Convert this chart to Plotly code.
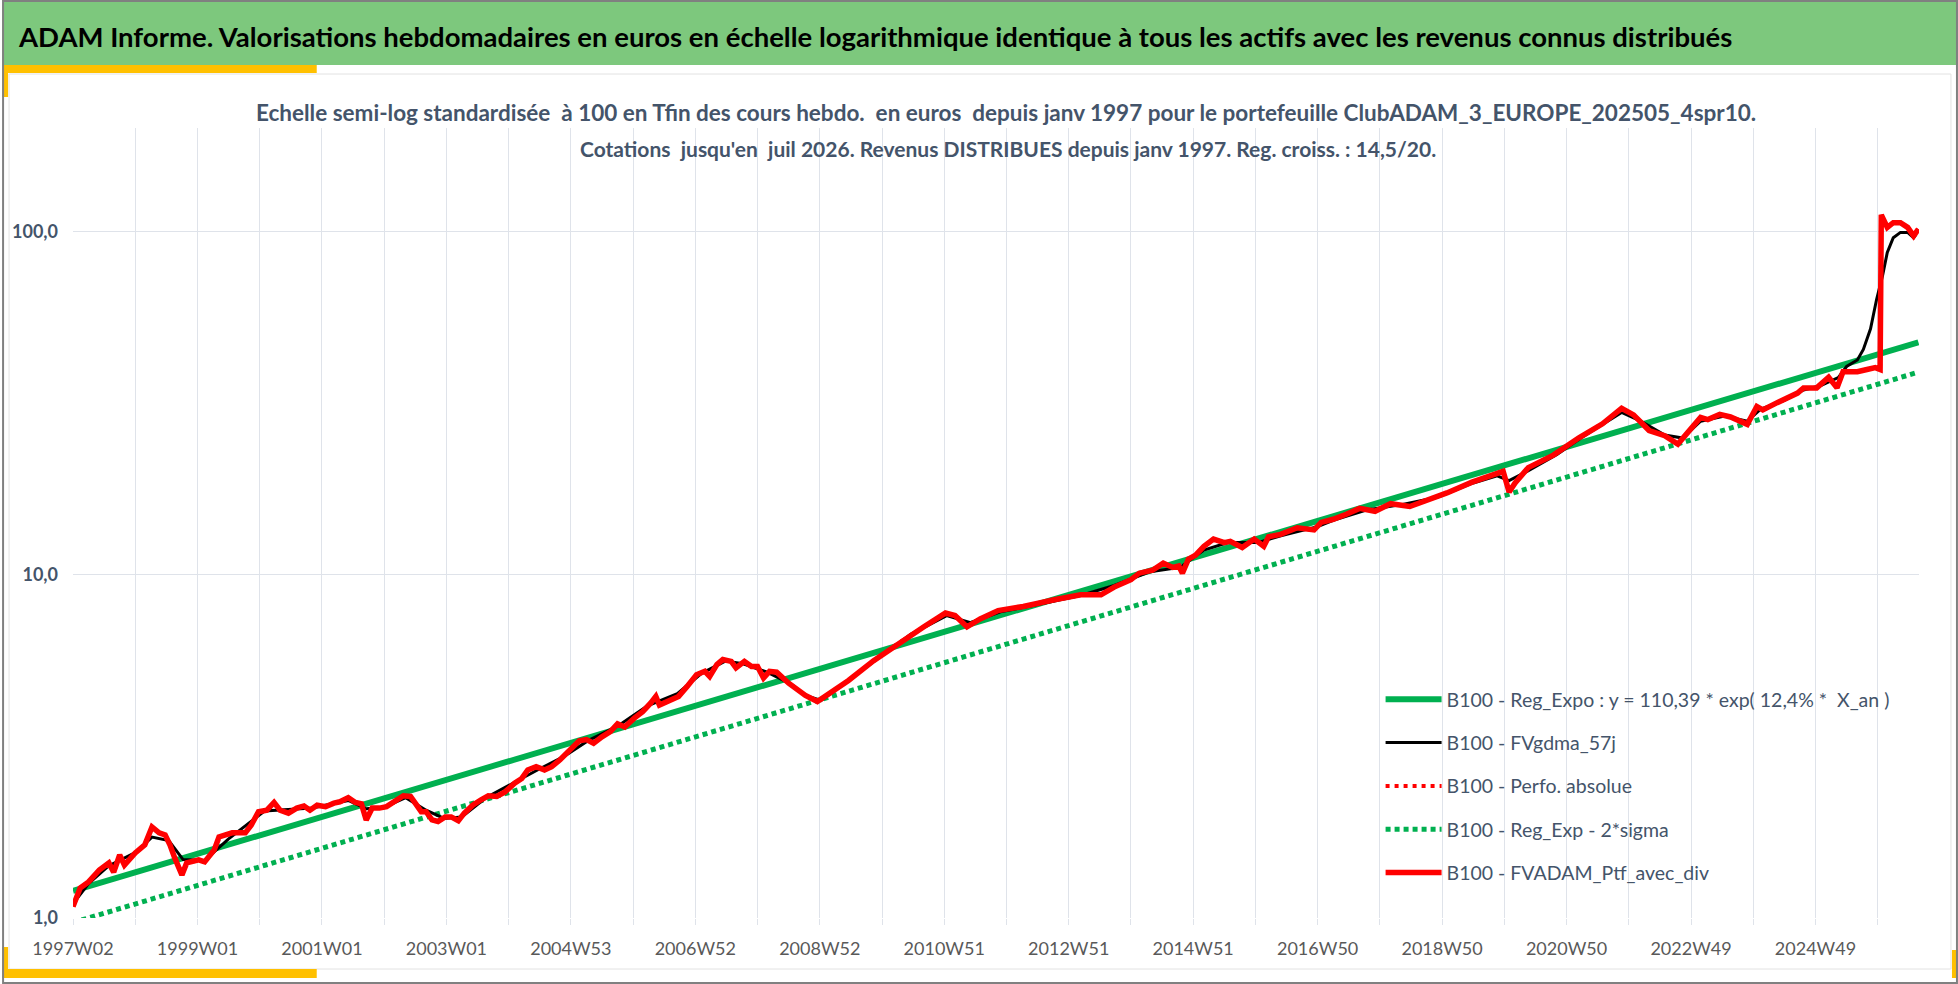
import plotly.graph_objects as go
import math

# ---------------------------------------------------------------- DATA
tick_labels = ["1997W02", "1999W01", "2001W01", "2003W01", "2004W53", "2006W52",
               "2008W52", "2010W51", "2012W51", "2014W51", "2016W50", "2018W50",
               "2020W50", "2022W49", "2024W49"]

# weeks counted from 1997W02
red_weeks = [0, 6, 13, 22, 30, 34, 39, 43, 52, 60, 66, 72, 77, 81, 85, 91, 95, 105, 110, 118, 122, 133, 144,
             149, 155, 162, 168, 173, 180, 187, 193, 198, 204, 211, 218, 223, 230, 236, 241, 245, 250, 256, 262,
             269, 276, 282, 287, 291, 295, 300, 305, 311, 316, 322, 327, 334, 341, 347, 354, 361, 369, 375, 380,
             387, 394, 400, 407, 414, 423, 429, 435, 442, 449, 455, 461, 469, 476, 483, 487, 490, 497, 506, 513,
             521, 528, 532, 538, 543, 550, 554, 561, 567, 572, 577, 582,
             588, 598, 612, 622, 633, 648, 669, 690, 711, 729, 737, 747, 758, 773, 794, 820,
             842, 859, 870, 884, 891, 902, 911, 919, 924, 927, 932, 938, 945, 953, 962, 967, 977, 987, 995, 999,
             1009, 1023, 1037, 1043, 1053,
             1064, 1075, 1088, 1101, 1117, 1132, 1148, 1169, 1190, 1195, 1200, 1205, 1216, 1237, 1258, 1278,
             1294, 1304, 1317, 1330, 1341, 1351,
             1360, 1366, 1376, 1385, 1396, 1399, 1407, 1412, 1424, 1429, 1441, 1446, 1457, 1467, 1474, 1479,
             1491, 1499, 1506, 1510, 1511, 1516, 1521, 1527, 1533, 1538, 1542]
red_values = [1.08, 1.223, 1.274, 1.38, 1.447, 1.36, 1.526, 1.427, 1.547, 1.633, 1.842, 1.77, 1.745, 1.633,
              1.496, 1.335, 1.447, 1.476, 1.457, 1.579, 1.722, 1.77, 1.77,
              1.866, 2.04, 2.06, 2.17, 2.06, 2.02, 2.09, 2.12, 2.06, 2.13, 2.11, 2.16, 2.18, 2.24, 2.17, 2.15,
              1.93, 2.09, 2.09, 2.11, 2.18, 2.27, 2.26, 2.13, 2.04, 2.04, 1.93, 1.91, 1.97, 1.97, 1.92, 2.02,
              2.13, 2.21, 2.27, 2.26, 2.33, 2.47, 2.55, 2.70, 2.76, 2.70, 2.76, 2.89, 3.05, 3.28, 3.31, 3.23,
              3.37, 3.49, 3.68, 3.60, 3.82, 3.99, 4.24, 4.42, 4.17, 4.27, 4.42, 4.72, 5.11, 5.23, 5.05, 5.47,
              5.66, 5.59, 5.35, 5.59, 5.40, 5.40, 5.00, 5.23,
              5.2, 4.83, 4.45, 4.27, 4.52, 4.92, 5.62, 6.32, 7.05, 7.73, 7.6, 7.05, 7.43, 7.86, 8.08, 8.45,
              8.74, 8.74, 9.2, 9.67, 10.1, 10.3, 10.8, 10.5, 10.6, 10.1, 11.1, 11.4, 12.1, 12.7, 12.4, 12.5,
              12.0, 12.7, 12.1, 12.9, 13.1, 13.7, 13.5, 14.2, 14.5,
              15.0, 15.6, 15.3, 16.1, 15.8, 16.5, 17.3, 18.6, 19.7, 20.0, 17.4, 18.5, 20.5, 22.3, 25.0, 27.5,
              30.5, 29.2, 26.3, 25.4, 24.0, 26.3,
              28.7, 28.3, 29.3, 28.8, 27.9, 27.4, 30.9, 30.2, 31.7, 32.4, 33.8, 35.0, 35.0, 37.6, 35.0, 39.0,
              39.0, 39.6, 40.1, 39.6, 111.7, 102.7, 106, 106, 102.7, 97, 101.5]

black_weeks = [0, 13, 30, 52, 66, 80, 92, 110, 130, 160, 200, 230, 245, 260, 278, 295, 310, 325, 345, 370,
               390, 410, 430, 455, 480, 505, 525, 545, 560, 580, 600, 612, 625, 640, 670, 700, 730, 750, 775,
               800, 842, 870, 900, 925, 945, 965, 990, 1010, 1040, 1053, 1080, 1110, 1140, 1170, 1190, 1200,
               1215, 1240, 1260, 1280, 1294, 1310, 1330, 1345, 1360, 1380, 1399, 1410, 1430, 1446, 1460, 1475,
               1482, 1491, 1496, 1502, 1507, 1512, 1516, 1521, 1527, 1533, 1538, 1540]
black_values = [1.10, 1.26, 1.42, 1.55, 1.72, 1.68, 1.48, 1.47, 1.70, 2.05, 2.09, 2.2, 2.08, 2.1, 2.24, 2.06,
                1.95, 1.97, 2.24, 2.5, 2.72, 2.95, 3.28, 3.62, 4.15, 4.5, 5.15, 5.6, 5.5, 5.2, 4.8, 4.45, 4.3,
                4.7, 5.6, 6.7, 7.6, 7.25, 7.8, 8.1, 8.7, 9.3, 10.2, 10.5, 11.8, 12.4, 12.4, 13.0, 13.8, 14.4,
                15.4, 16.0, 16.8, 18.5, 19.4, 18.8, 20.0, 22.4, 25.0, 27.6, 29.7, 28.0, 25.5, 25.0, 28.0, 29.0,
                28.0, 30.3, 32.2, 34.5, 35.5, 37.5, 40.4, 42.2, 45.3, 52.0, 63.2, 74.2, 86.8, 95.8, 99.3, 99.3,
                95.8, 98.0]

reg_weeks = [0, 1542]
reg_values = [1.2, 47.5]
sigma_values = [0.97, 38.9]

# ---------------------------------------------------------------- LAYOUT HELPERS
W, H = 1958, 984
L, R, T, B = 71, 39, 128, 66
PW, PH = W - L - R, H - T - B
FONT = "Lato"
SLATE = "#44546A"
GRID = "#DFE3EA"


def px_x(X):
    return (X - L) / PW


def px_y(Y):
    return (H - B - Y) / PH


def box(x0, y0, x1, y1, fill=None, line=None, width=0):
    return dict(type="rect", xref="paper", yref="paper",
                x0=px_x(x0), x1=px_x(x1), y0=px_y(y1), y1=px_y(y0),
                fillcolor=fill if fill else "rgba(0,0,0,0)",
                line=dict(color=line if line else "rgba(0,0,0,0)", width=width),
                layer="above")


################################## TRACES ##################################
fig = go.Figure()

fig.add_trace(go.Scatter(x=reg_weeks, y=reg_values, mode="lines",
                         name="B100 - Reg_Expo : y = 110,39 * exp( 12,4% *  X_an )",
                         line=dict(color="#00B050", width=6), legendgroup="a", legendrank=1))
fig.add_trace(go.Scatter(x=reg_weeks, y=sigma_values, mode="lines",
                         name="B100 - Reg_Exp - 2*sigma",
                         line=dict(color="#00B050", width=5, dash="5px,4px"), legendgroup="d", legendrank=4))
fig.add_trace(go.Scatter(x=black_weeks, y=black_values, mode="lines",
                         name="B100 - FVgdma_57j",
                         line=dict(color="black", width=3), legendgroup="b", legendrank=2))
fig.add_trace(go.Scatter(x=red_weeks, y=red_values, mode="lines",
                         name="B100 - Perfo. absolue",
                         line=dict(color="#FF0000", width=4, dash="4px,5px"), legendgroup="c", legendrank=3))
fig.add_trace(go.Scatter(x=red_weeks, y=red_values, mode="lines",
                         name="B100 - FVADAM_Ptf_avec_div",
                         line=dict(color="#FF0000", width=5.5), legendgroup="e", legendrank=5))

################################## AXES ##################################
grid_weeks = list(range(0, 1543, 52))
grid_text = [tick_labels[i // 2] if i % 2 == 0 and i // 2 < len(tick_labels) else "" for i in range(len(grid_weeks))]

fig.update_xaxes(range=[0, 1542.5], tickmode="array", tickvals=grid_weeks, ticktext=grid_text,
                 showgrid=True, gridcolor=GRID, gridwidth=1, zeroline=False, showline=False,
                 ticks="outside", ticklen=6, tickcolor=GRID, ticklabelstandoff=8,
                 tickfont=dict(family=FONT, size=18, color="#595959"))
fig.update_yaxes(type="log", range=[0, math.log10(200)], tickmode="array",
                 tickvals=[1, 10, 100], ticktext=["<b>1,0</b>", "<b>10,0</b>", "<b>100,0</b>"],
                 showgrid=True, gridcolor=GRID, gridwidth=1, zeroline=False, showline=False,
                 ticks="", ticklabelstandoff=14,
                 tickfont=dict(family=FONT, size=18, color=SLATE))

################################## FRAME ##################################
shapes = [
    box(0, 0, W, 65, fill="#7DC87D"),
    box(7, 74, W - 7, 969, line="#E2E2E2", width=1),
    box(0, 65, 315, 73, fill="#FFC000"),
    box(0, 65, 6, 97, fill="#FFC000"),
    box(0, 969, 315, 978, fill="#FFC000"),
    box(0, 947, 6, 978, fill="#FFC000"),
    box(W - 6, 950, W, 978, fill="#FFC000"),
    box(1, 1, W - 1, H - 1, line="#808080", width=2),
]

annotations = [
    dict(x=px_x(14), y=px_y(36), xref="paper", yref="paper", xanchor="left", yanchor="middle",
         showarrow=False, text="<b>ADAM Informe. Valorisations hebdomadaires en euros en échelle logarithmique "
                               "identique à tous les actifs avec les revenus connus distribués</b>",
         font=dict(family=FONT, size=27.5, color="black")),
    dict(x=px_x(1005), y=px_y(113), xref="paper", yref="paper", xanchor="center", yanchor="middle",
         showarrow=False, text="<b>Echelle semi-log standardisée  à 100 en Tfin des cours hebdo.  en euros  depuis "
                               "janv 1997 pour le portefeuille ClubADAM_3_EUROPE_202505_4spr10.</b>",
         font=dict(family=FONT, size=22.5, color=SLATE)),
    dict(x=px_x(1007), y=px_y(148), xref="paper", yref="paper", xanchor="center", yanchor="middle",
         showarrow=False, text="<b>Cotations  jusqu'en  juil 2026. Revenus DISTRIBUES depuis janv 1997. "
                               "Reg. croiss. : 14,5/20.</b>",
         font=dict(family=FONT, size=21, color=SLATE)),
]

fig.update_layout(
    width=W, height=H, autosize=False,
    margin=dict(l=L, r=R, t=T, b=B, pad=0),
    paper_bgcolor="white", plot_bgcolor="white",
    shapes=shapes, annotations=annotations,
    showlegend=True,
    legend=dict(x=px_x(1380), y=px_y(680), xanchor="left", yanchor="top",
                traceorder="grouped", tracegroupgap=15, itemwidth=56,
                bgcolor="rgba(0,0,0,0)", font=dict(family=FONT, size=19.5, color=SLATE)),
)

fig.write_html("out.html", config={"displayModeBar": False},
               post_script="document.body.style.margin='0';document.body.style.overflow='hidden';")
